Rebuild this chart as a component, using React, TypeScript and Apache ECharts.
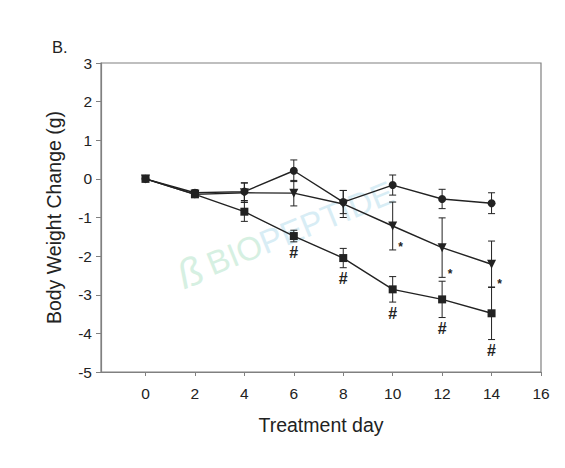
import React, { useEffect, useRef } from "react";
import * as echarts from "echarts";

const days = [0, 2, 4, 6, 8, 10, 12, 14];
const xTicks = [0, 2, 4, 6, 8, 10, 12, 14, 16];

const circleMean = [0, -0.36, -0.33, 0.21, -0.6, -0.16, -0.52, -0.63];
const circleErr = [0, 0.08, 0.23, 0.28, 0.3, 0.26, 0.25, 0.27];

const triMean = [0, -0.4, -0.36, -0.37, -0.65, -1.22, -1.78, -2.21];
const triErr = [0, 0.08, 0.25, 0.33, 0.35, 0.62, 0.77, 0.6];

const sqMean = [0, -0.4, -0.85, -1.48, -2.05, -2.86, -3.12, -3.48];
const sqErr = [0, 0.06, 0.25, 0.15, 0.25, 0.33, 0.47, 0.68];

const starDays = [10, 12, 14];
const hashDays = [6, 8, 10, 12, 14];

const INK = "#222";

function pts(mean: number[]) {
  return days.map((d, i) => [d, mean[i]]);
}
function bars(mean: number[], err: number[]) {
  return days.map((d, i) => [d, mean[i] - err[i], mean[i] + err[i]]);
}

const errRender = (params: any, api: any) => {
  const x = api.value(0);
  const lo = api.coord([x, api.value(1)]);
  const hi = api.coord([x, api.value(2)]);
  const w = 3.5;
  const st = { stroke: INK, lineWidth: 1 };
  return {
    type: "group",
    children: [
      { type: "line", shape: { x1: hi[0], y1: hi[1], x2: lo[0], y2: lo[1] }, style: st },
      { type: "line", shape: { x1: hi[0] - w, y1: hi[1], x2: hi[0] + w, y2: hi[1] }, style: st },
      { type: "line", shape: { x1: lo[0] - w, y1: lo[1], x2: lo[0] + w, y2: lo[1] }, style: st },
    ],
  };
};

export default function App() {
  const ref = useRef<HTMLDivElement>(null);
  useEffect(() => {
    document.body.style.margin = "0";
    const chart = echarts.init(ref.current!, null, { renderer: "svg" });
    const starData = starDays.map((d) => {
      const i = days.indexOf(d);
      return [d, triMean[i] - triErr[i]];
    });
    const hashData = hashDays.map((d) => {
      const i = days.indexOf(d);
      return [d, sqMean[i] - sqErr[i]];
    });
    const font = "Liberation Sans, Arial, sans-serif";
    chart.setOption({
      animation: false,
      backgroundColor: "#ffffff",
      grid: {
        left: 101,
        right: 24,
        top: 63,
        bottom: 96,
        show: true,
        borderColor: "#808080",
        borderWidth: 1.2,
      },
      xAxis: {
        type: "value",
        min: -1.8,
        max: 16,
        name: "Treatment day",
        nameLocation: "middle",
        nameGap: 43,
        nameTextStyle: { fontFamily: font, fontSize: 19.5, color: "#222" },
        axisLine: { onZero: false, lineStyle: { color: "#808080", width: 1.2 } },
        axisTick: { show: true, length: 4, customValues: xTicks, lineStyle: { color: "#808080" } },
        axisLabel: { customValues: xTicks, fontFamily: font, fontSize: 15.5, color: "#222", margin: 13 },
        splitLine: { show: false },
      },
      yAxis: {
        type: "value",
        min: -5,
        max: 3,
        interval: 1,
        name: "Body Weight Change (g)",
        nameLocation: "middle",
        nameGap: 37,
        nameTextStyle: { fontFamily: font, fontSize: 19.5, color: "#222" },
        axisLine: { show: true, onZero: false, lineStyle: { color: "#808080", width: 1.2 } },
        axisTick: { show: true, length: 5, lineStyle: { color: "#808080" } },
        axisLabel: { fontFamily: font, fontSize: 15.5, color: "#222", margin: 9 },
        splitLine: { show: false },
      },
      graphic: [
        {
          type: "text",
          left: 52,
          top: 38,
          style: { text: "B.", font: `16.5px ${font}`, fill: "#222" },
        },
        {
          type: "text",
          x: 300,
          y: 228,
          rotation: (22 * Math.PI) / 180,
          z: 0,
          style: {
            text: "{a|BIO}{b|PEPTIDE}",
            align: "center",
            verticalAlign: "middle",
            rich: {
              a: { fontFamily: font, fontSize: 33, fill: "#d6f0e2", color: "#d6f0e2" },
              b: { fontFamily: font, fontSize: 33, fill: "#d8edf5", color: "#d8edf5" },
            },
          },
        },
        {
          type: "text",
          x: 190,
          y: 272,
          rotation: (22 * Math.PI) / 180,
          z: 0,
          style: {
            text: "ß",
            font: `italic 40px ${font}`,
            fill: "#d6f0e2",
            align: "center",
            verticalAlign: "middle",
          },
        },
      ],
      series: [
        {
          type: "custom",
          renderItem: errRender,
          data: bars(circleMean, circleErr),
          encode: { x: 0, y: [1, 2] },
          z: 1,
        },
        {
          type: "custom",
          renderItem: errRender,
          data: bars(triMean, triErr),
          encode: { x: 0, y: [1, 2] },
          z: 1,
        },
        {
          type: "custom",
          renderItem: errRender,
          data: bars(sqMean, sqErr),
          encode: { x: 0, y: [1, 2] },
          z: 1,
        },
        {
          type: "line",
          data: pts(circleMean),
          symbol: "circle",
          symbolSize: 8,
          lineStyle: { color: INK, width: 1.4 },
          itemStyle: { color: INK },
          z: 3,
        },
        {
          type: "line",
          data: pts(triMean),
          symbol: "triangle",
          symbolRotate: 180,
          symbolSize: 9,
          lineStyle: { color: INK, width: 1.4 },
          itemStyle: { color: INK },
          z: 3,
        },
        {
          type: "line",
          data: pts(sqMean),
          symbol: "rect",
          symbolSize: 8,
          lineStyle: { color: INK, width: 1.4 },
          itemStyle: { color: INK },
          z: 3,
        },
        {
          type: "custom",
          data: starData,
          encode: { x: 0, y: 1 },
          renderItem: (params: any, api: any) => {
            const p = api.coord([api.value(0), api.value(1)]);
            return {
              type: "text",
              x: p[0] + 8,
              y: p[1] - 3,
              style: {
                text: "*",
                font: `bold 12px ${font}`,
                fill: INK,
                align: "center",
                verticalAlign: "middle",
              },
            };
          },
          z: 4,
        },
        {
          type: "custom",
          data: hashData,
          encode: { x: 0, y: 1 },
          renderItem: (params: any, api: any) => {
            const p = api.coord([api.value(0), api.value(1)]);
            return {
              type: "text",
              x: p[0],
              y: p[1] + 11,
              style: {
                text: "#",
                font: `bold 16px ${font}`,
                fill: INK,
                align: "center",
                verticalAlign: "middle",
              },
            };
          },
          z: 4,
        },
      ],
    });
    return () => chart.dispose();
  }, []);
  return <div ref={ref} style={{ width: 565, height: 468 }} />;
}
